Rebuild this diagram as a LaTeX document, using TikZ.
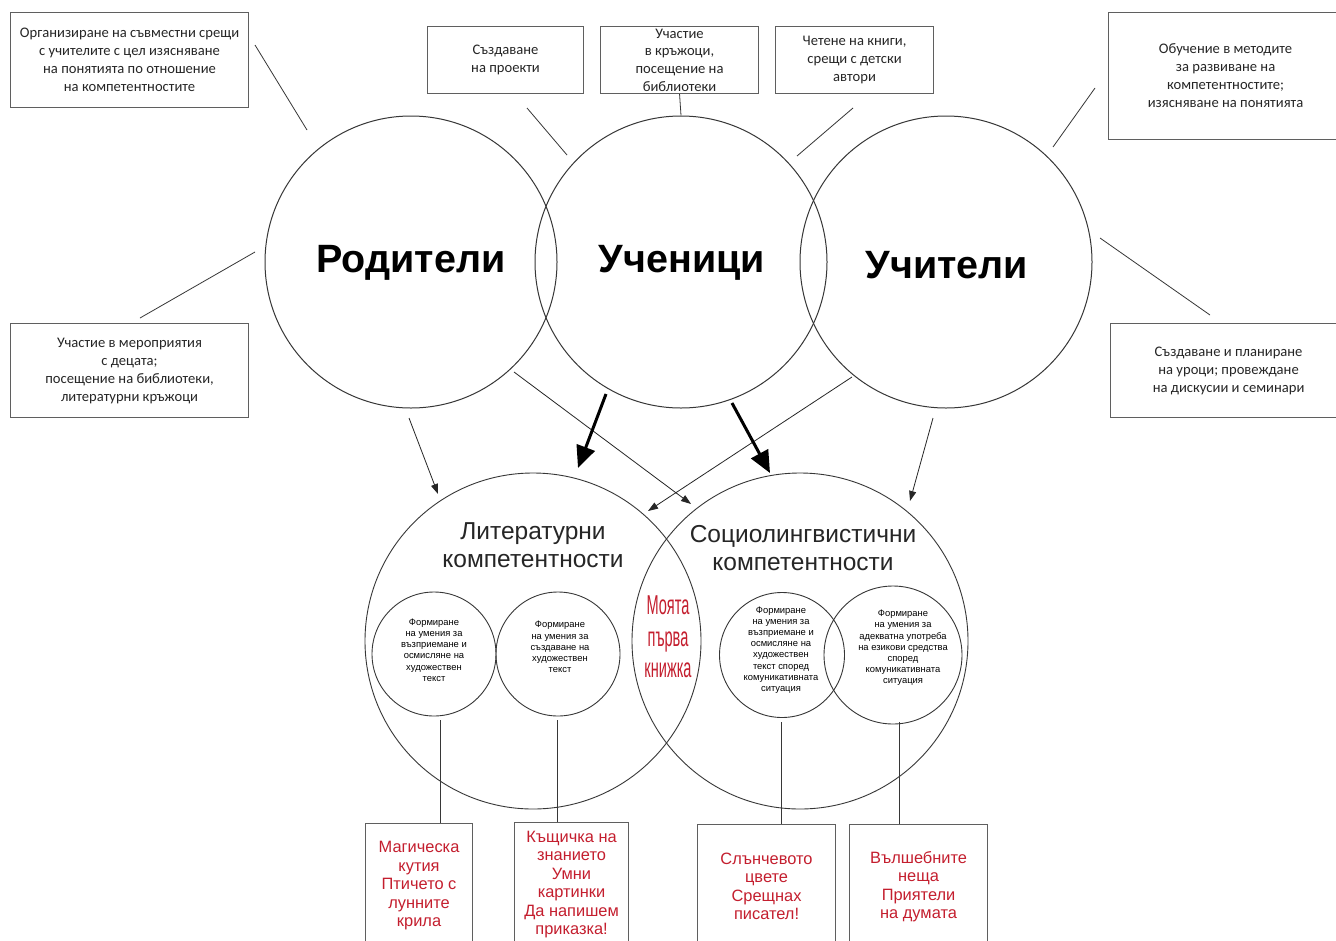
\documentclass[tikz,border=0pt]{standalone}
\usepackage{fontspec}
\setmainfont{Carlito}
\newfontfamily\arialf{Liberation Sans}
\usetikzlibrary{shapes.geometric,arrows.meta}
\definecolor{bred}{RGB}{196,30,46}
\definecolor{bgray}{RGB}{95,95,95}
\definecolor{cgray}{RGB}{55,55,55}
\begin{document}
\begin{tikzpicture}[x=1pt,y=-1pt,
  box/.style={draw=bgray, line width=1.1pt, align=center, inner sep=0pt, anchor=north west,
    font=\fontsize{14.6}{18}\selectfont, text=black!85},
  rbox/.style={draw=bgray, line width=1.1pt, align=center, inner sep=0pt, anchor=north west,
    font=\arialf\fontsize{16.4}{18.5}\selectfont, text=bred},
  bigc/.style={draw=cgray, line width=1pt, circle, minimum size=292pt, inner sep=0pt},
  lowc/.style={draw=cgray, line width=0.9pt, circle, minimum size=336pt, inner sep=0pt},
  smallc/.style={draw=cgray, line width=0.9pt, circle, inner sep=0pt},
  stxt/.style={align=center, font=\arialf\fontsize{9.4}{11.2}\selectfont, inner sep=0pt},
  conn/.style={draw=cgray, line width=0.8pt},
  tarr/.style={draw=black!85, line width=0.8pt, -{Triangle[length=10pt,width=7pt]}},
  Tarr/.style={draw=black, line width=3pt, -{Triangle[length=22pt,width=19pt]}},
  bigt/.style={font=\arialf\bfseries\fontsize{39.5}{40}\selectfont},
  midt/.style={align=center, font=\arialf\fontsize{24.5}{27.5}\selectfont, text=black!85}
]
\useasboundingbox (0,0) rectangle (1336,940);
\clip (0,0) rectangle (1336,940);
\fill[white] (0,0) rectangle (1336,940);

% big circles
\node[bigc] (rod) at (411,262) {};
\node[bigc] (uch) at (681,262) {};
\node[bigc] (uct) at (946,262) {};
\node[bigt] (trod) at (411,263) {Родители};
\node[bigt] (tuch) at (682,263) {Ученици};
\node[bigt] (tuct) at (947,265) {Учители};

% top boxes
\node[box, minimum width=238pt, minimum height=95pt] (b1) at (10,12)
  {Организиране на съвместни срещи\\с учителите с цел изясняване\\на понятията по отношение\\на компетентностите};
\node[box, minimum width=156pt, minimum height=67pt] (b2) at (427,26)
  {Създаване\\на проекти};
\node[box, minimum width=158pt, minimum height=67pt, font=\fontsize{14.6}{17.6}\selectfont] (b3) at (600,26)
  {Участие\\в кръжоци,\\посещение на\\библиотеки};
\node[box, minimum width=158pt, minimum height=67pt] (b4) at (775,26)
  {Четене на книги,\\срещи с детски\\автори};
\node[box, minimum width=234pt, minimum height=127pt] (b5) at (1108,12)
  {Обучение в методите\\за развиване на\\компетентностите;\\изясняване на понятията};
\node[box, minimum width=238pt, minimum height=94pt] (b6) at (10,323)
  {Участие в мероприятия\\с децата;\\посещение на библиотеки,\\литературни кръжоци};
\node[box, minimum width=236pt, minimum height=94pt] (b7) at (1110,323)
  {Създаване и планиране\\на уроци; провеждане\\на дискусии и семинари};

% connectors from boxes to big circles
\coordinate (c1a) at (255,45);  \coordinate (c1b) at (307,130);
\coordinate (c2a) at (527,108); \coordinate (c2b) at (567,155);
\coordinate (c4a) at (853,108); \coordinate (c4b) at (797,156);
\coordinate (c5a) at (1095,88); \coordinate (c5b) at (1053,147);
\coordinate (c6a) at (140,318); \coordinate (c6b) at (255,252);
\coordinate (c7a) at (1100,238); \coordinate (c7b) at (1210,315);
\draw[conn] (c1a) -- (c1b);
\draw[conn] (c2a) -- (c2b);
\draw[conn] (b3.south) -- (uch.north);
\draw[conn] (c4a) -- (c4b);
\draw[conn] (c5a) -- (c5b);
\draw[conn] (c6a) -- (c6b);
\draw[conn] (c7a) -- (c7b);

% lower circles
\node[lowc] (lit) at (533,641) {};
\node[lowc] (soc) at (800,641) {};
\node[midt] (tlit) at (533,545) {Литературни\\компетентности};
\node[midt] (tsoc) at (803,548) {Социолингвистични\\компетентности};

% small circles
\node[smallc, minimum size=124pt] (s1) at (434,654) {};
\node[smallc, minimum size=124pt] (s2) at (558,654) {};
\node[smallc, minimum size=125pt] (s3) at (782,655) {};
\node[smallc, minimum size=138pt] (s4) at (893,655) {};
\node[stxt] (t1) at (434,650) {Формиране\\на умения за\\възприемане и\\осмисляне на\\художествен\\текст};
\node[stxt] (t2) at (560,647) {Формиране\\на умения за\\създаване на\\художествен\\текст};
\node[stxt] (t3) at (781,650) {Формиране\\на умения за\\възприемане и\\осмисляне на\\художествен\\текст според\\комуникативната\\ситуация};
\node[stxt] (t4) at (903,648) {Формиране\\на умения за\\адекватна употреба\\на езикови средства\\според\\комуникативната\\ситуация};

\node[align=center, text=bred, inner sep=0pt] (kn) at (668,640)
  {\scalebox{0.56}[1.05]{\arialf\fontsize{26}{30}\selectfont\begin{tabular}{@{}c@{}}Моята\\първа\\книжка\end{tabular}}};

% arrows
\coordinate (a1s) at (409,418); \coordinate (a1e) at (438,494);
\coordinate (a2s) at (514,372); \coordinate (a2e) at (691,504);
\coordinate (a3s) at (852,377); \coordinate (a3e) at (648,511);
\coordinate (a4s) at (933,418); \coordinate (a4e) at (910,501);
\coordinate (a5s) at (606,394); \coordinate (a5e) at (578,468);
\coordinate (a6s) at (732,403); \coordinate (a6e) at (770,473);
\draw[tarr] (a1s) -- (a1e);
\draw[tarr] (a2s) -- (a2e);
\draw[tarr] (a3s) -- (a3e);
\draw[tarr] (a4s) -- (a4e);
\draw[Tarr] (a5s) -- (a5e);
\draw[Tarr] (a6s) -- (a6e);

% bottom boxes
\node[rbox, minimum width=107pt, minimum height=124pt] (r1) at (365,823)
  {Магическа\\кутия\\Птичето с\\лунните\\крила};
\node[rbox, minimum width=114pt, minimum height=124pt] (r2) at (514,822)
  {Къщичка на\\знанието\\Умни\\картинки\\Да напишем\\приказка!};
\node[rbox, minimum width=138pt, minimum height=124pt] (r3) at (697,824)
  {Слънчевото\\цвете\\Срещнах\\писател!};
\node[rbox, minimum width=138pt, minimum height=124pt] (r4) at (849,824)
  {Вълшебните\\неща\\Приятели\\на думата};

\coordinate (l1) at (440,720); \coordinate (l2) at (557,720);
\coordinate (l3) at (781,722); \coordinate (l4) at (899,722);
\draw[conn] (l1) -- (l1 |- r1.north);
\draw[conn] (l2) -- (l2 |- r2.north);
\draw[conn] (l3) -- (l3 |- r3.north);
\draw[conn] (l4) -- (l4 |- r4.north);
\end{tikzpicture}
\end{document}
